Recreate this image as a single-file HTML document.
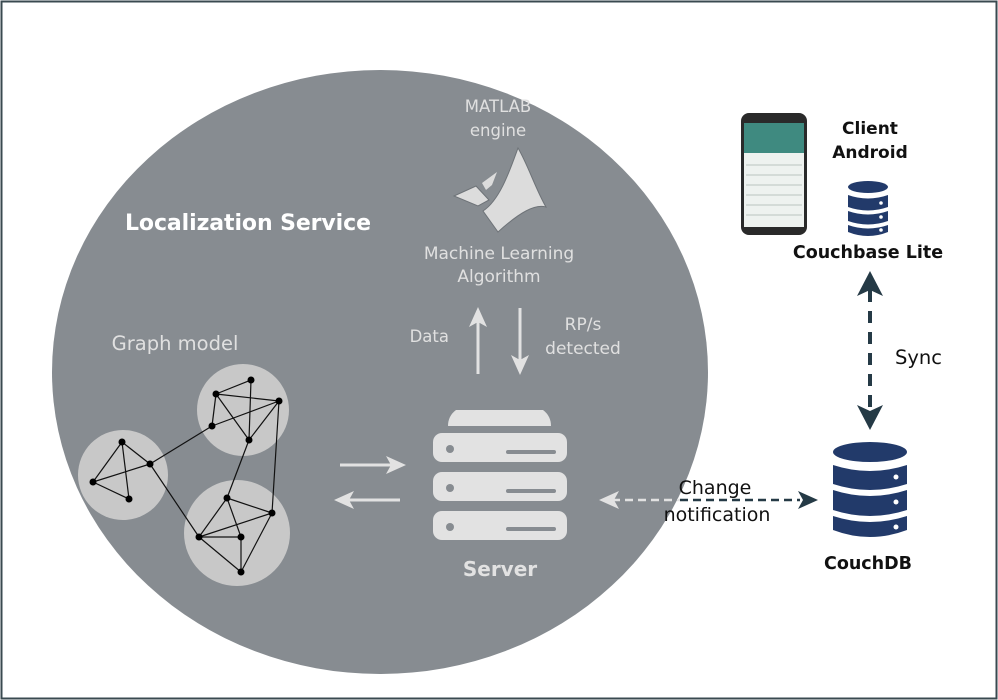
<!DOCTYPE html>
<html><head><meta charset="utf-8"><style>
body{margin:0;background:#fff}
svg{display:block}
.t{font-family:"DejaVu Sans","Liberation Sans",sans-serif}
</style></head><body>
<svg width="998" height="700" viewBox="0 0 998 700" xmlns="http://www.w3.org/2000/svg">
<rect x="1.5" y="1.5" width="995" height="697" fill="#fff" stroke="#3a4a50" stroke-width="2"/>
<ellipse cx="380" cy="372" rx="328" ry="302" fill="#878c91"/>
<text class="t" x="125" y="230" font-size="22" font-weight="bold" fill="#fff" textLength="246">Localization Service</text>
<text class="t" x="498" y="112" font-size="16.5" fill="#e0e0e0" text-anchor="middle">MATLAB</text>
<text class="t" x="498" y="136" font-size="16.5" fill="#e0e0e0" text-anchor="middle">engine</text>
<path d="M518,148 C528,165 536,190 546,207 C535,204 520,212 498,232 L483,211 C500,200 510,170 518,148 Z" fill="#dcdcdc" stroke="#6e7378" stroke-width="1"/>
<path d="M454,196 L476,186 L489,200 L478,206 Z" fill="#dcdcdc" stroke="#6e7378" stroke-width="1"/>
<path d="M482,183 L497,172 L492,185 L486,190 Z" fill="#dcdcdc"/>
<text class="t" x="499" y="259" font-size="17" fill="#e0e0e0" text-anchor="middle">Machine Learning</text>
<text class="t" x="499" y="282" font-size="17" fill="#e0e0e0" text-anchor="middle">Algorithm</text>
<text class="t" x="449" y="342" font-size="16.5" fill="#e0e0e0" text-anchor="end">Data</text>
<text class="t" x="583" y="330" font-size="17" fill="#e0e0e0" text-anchor="middle">RP/s</text>
<text class="t" x="583" y="354" font-size="17" fill="#e0e0e0" text-anchor="middle">detected</text>
<text class="t" x="175" y="350" font-size="19.5" fill="#e0e0e0" text-anchor="middle">Graph model</text>
<g stroke="#e2e2e2" stroke-width="3" fill="none">
<line x1="478" y1="374" x2="478" y2="316"/>
<line x1="520" y1="308" x2="520" y2="366"/>
<line x1="340" y1="465" x2="397" y2="465"/>
<line x1="400" y1="500" x2="343" y2="500"/>
</g>
<g fill="#e2e2e2">
<path d="M478,307 L469,327 L478,322 L487,327 Z"/>
<path d="M520,375 L511,355 L520,360 L529,355 Z"/>
<path d="M406,465 L386,456 L391,465 L386,474 Z"/>
<path d="M334,500 L354,491 L349,500 L354,509 Z"/>
<path d="M599,500 L619,491 L614,500 L619,509 Z"/>
</g>
<line x1="612" y1="500" x2="680" y2="500" stroke="#e2e2e2" stroke-width="2.5" stroke-dasharray="8,5"/>
<line x1="680" y1="500" x2="800" y2="500" stroke="#253a46" stroke-width="2.5" stroke-dasharray="8,5"/>
<path d="M818,500 L798,491 L803,500 L798,509 Z" fill="#253a46"/>
<text x="715" y="494" font-family="DejaVu Sans, sans-serif" font-size="19" fill="#111" text-anchor="middle">Change</text>
<text x="717" y="521" font-family="DejaVu Sans, sans-serif" font-size="19" fill="#111" text-anchor="middle">notification</text>
<g fill="#e2e2e2">
<path d="M456,410 L543,410 Q551,416 551,426 L448,426 Q448,416 456,410 Z"/>
<rect x="433" y="433" width="134" height="29" rx="9"/>
<rect x="433" y="472" width="134" height="29" rx="9"/>
<rect x="433" y="511" width="134" height="29" rx="9"/>
</g>
<g fill="#878c91"><circle cx="450" cy="449" r="4"/><circle cx="450" cy="488" r="4"/><circle cx="450" cy="527" r="4"/></g>
<g stroke="#878c91" stroke-width="4" stroke-linecap="round"><line x1="508" y1="452" x2="554" y2="452"/><line x1="508" y1="491" x2="554" y2="491"/><line x1="508" y1="529" x2="554" y2="529"/></g>
<text class="t" x="500" y="576" font-size="20" font-weight="bold" fill="#e2e2e2" text-anchor="middle">Server</text>
<g fill="#c8c8c8"><circle cx="123" cy="475" r="45"/><circle cx="243" cy="410" r="46"/><circle cx="237" cy="533" r="53"/></g>
<g stroke="#111" stroke-width="1.2">
<line x1="122" y1="442" x2="93" y2="482"/><line x1="122" y1="442" x2="150" y2="464"/><line x1="122" y1="442" x2="129" y2="499"/>
<line x1="93" y1="482" x2="150" y2="464"/><line x1="93" y1="482" x2="129" y2="499"/>
<line x1="150" y1="464" x2="212" y2="426"/><line x1="150" y1="464" x2="199" y2="537"/>
<line x1="216" y1="394" x2="251" y2="380"/><line x1="251" y1="380" x2="249" y2="440"/><line x1="216" y1="394" x2="279" y2="401"/>
<line x1="216" y1="394" x2="212" y2="426"/><line x1="216" y1="394" x2="249" y2="440"/><line x1="212" y1="426" x2="279" y2="401"/>
<line x1="279" y1="401" x2="249" y2="440"/><line x1="279" y1="401" x2="272" y2="513"/><line x1="249" y1="440" x2="227" y2="498"/>
<line x1="227" y1="498" x2="199" y2="537"/><line x1="227" y1="498" x2="241" y2="537"/><line x1="227" y1="498" x2="272" y2="513"/>
<line x1="199" y1="537" x2="272" y2="513"/><line x1="199" y1="537" x2="241" y2="537"/><line x1="241" y1="537" x2="241" y2="572"/>
<line x1="199" y1="537" x2="241" y2="572"/><line x1="272" y1="513" x2="241" y2="572"/>
</g>
<g fill="#000">
<circle cx="122" cy="442" r="3.5"/><circle cx="150" cy="464" r="3.5"/><circle cx="93" cy="482" r="3.5"/><circle cx="129" cy="499" r="3.5"/>
<circle cx="251" cy="380" r="3.5"/><circle cx="216" cy="394" r="3.5"/><circle cx="279" cy="401" r="3.5"/><circle cx="212" cy="426" r="3.5"/><circle cx="249" cy="440" r="3.5"/>
<circle cx="227" cy="498" r="3.5"/><circle cx="272" cy="513" r="3.5"/><circle cx="199" cy="537" r="3.5"/><circle cx="241" cy="537" r="3.5"/><circle cx="241" cy="572" r="3.5"/>
</g>
<rect x="741" y="113" width="66" height="122" rx="8" fill="#2a2a2a"/>
<rect x="744" y="123" width="60" height="104" fill="#eef2ef"/>
<rect x="744" y="123" width="60" height="30" fill="#3f8a80"/>
<g stroke="#b9c4bf" stroke-width="1"><line x1="746" y1="165" x2="802" y2="165"/><line x1="746" y1="175" x2="802" y2="175"/><line x1="746" y1="185" x2="802" y2="185"/><line x1="746" y1="195" x2="802" y2="195"/><line x1="746" y1="205" x2="802" y2="205"/><line x1="746" y1="215" x2="802" y2="215"/></g>
<text x="870" y="134" font-family="DejaVu Sans, sans-serif" font-size="17" font-weight="bold" fill="#111" text-anchor="middle">Client</text>
<text x="870" y="158" font-family="DejaVu Sans, sans-serif" font-size="17" font-weight="bold" fill="#111" text-anchor="middle">Android</text>
<g fill="#223a6a">
<ellipse cx="868" cy="187" rx="20" ry="6"/>
<path d="M848,195 Q868,202 888,195 L888,207 Q868,214 848,207 Z"/>
<path d="M848,211 Q868,218 888,211 L888,221 Q868,228 848,221 Z"/>
<path d="M848,225 Q868,232 888,225 L888,232 Q868,240 848,232 Z"/>
</g>
<g fill="#fff"><circle cx="881" cy="203" r="1.8"/><circle cx="881" cy="217" r="1.8"/><circle cx="881" cy="230" r="1.8"/></g>
<text x="868" y="258" font-family="DejaVu Sans, sans-serif" font-size="17.5" font-weight="bold" fill="#111" text-anchor="middle">Couchbase Lite</text>
<line x1="870" y1="290" x2="870" y2="412" stroke="#253a46" stroke-width="4" stroke-dasharray="12,9"/>
<path d="M870,271 L857,296 L870,290 L883,296 Z" fill="#253a46"/>
<path d="M870,430 L857,405 L870,411 L883,405 Z" fill="#253a46"/>
<text x="895" y="364" font-family="DejaVu Sans, sans-serif" font-size="19.5" fill="#111">Sync</text>
<g fill="#223a6a">
<ellipse cx="870" cy="452" rx="37" ry="10"/>
<path d="M833,465 Q870,477 907,465 L907,484 Q870,496 833,484 Z"/>
<path d="M833,490 Q870,502 907,490 L907,510 Q870,522 833,510 Z"/>
<path d="M833,516 Q870,528 907,516 L907,530 Q870,544 833,530 Z"/>
</g>
<g fill="#fff"><circle cx="896" cy="477" r="2.5"/><circle cx="896" cy="502" r="2.5"/><circle cx="896" cy="527" r="2.5"/></g>
<text x="868" y="569" font-family="DejaVu Sans, sans-serif" font-size="17.5" font-weight="bold" fill="#111" text-anchor="middle">CouchDB</text>
</svg>
</body></html>
